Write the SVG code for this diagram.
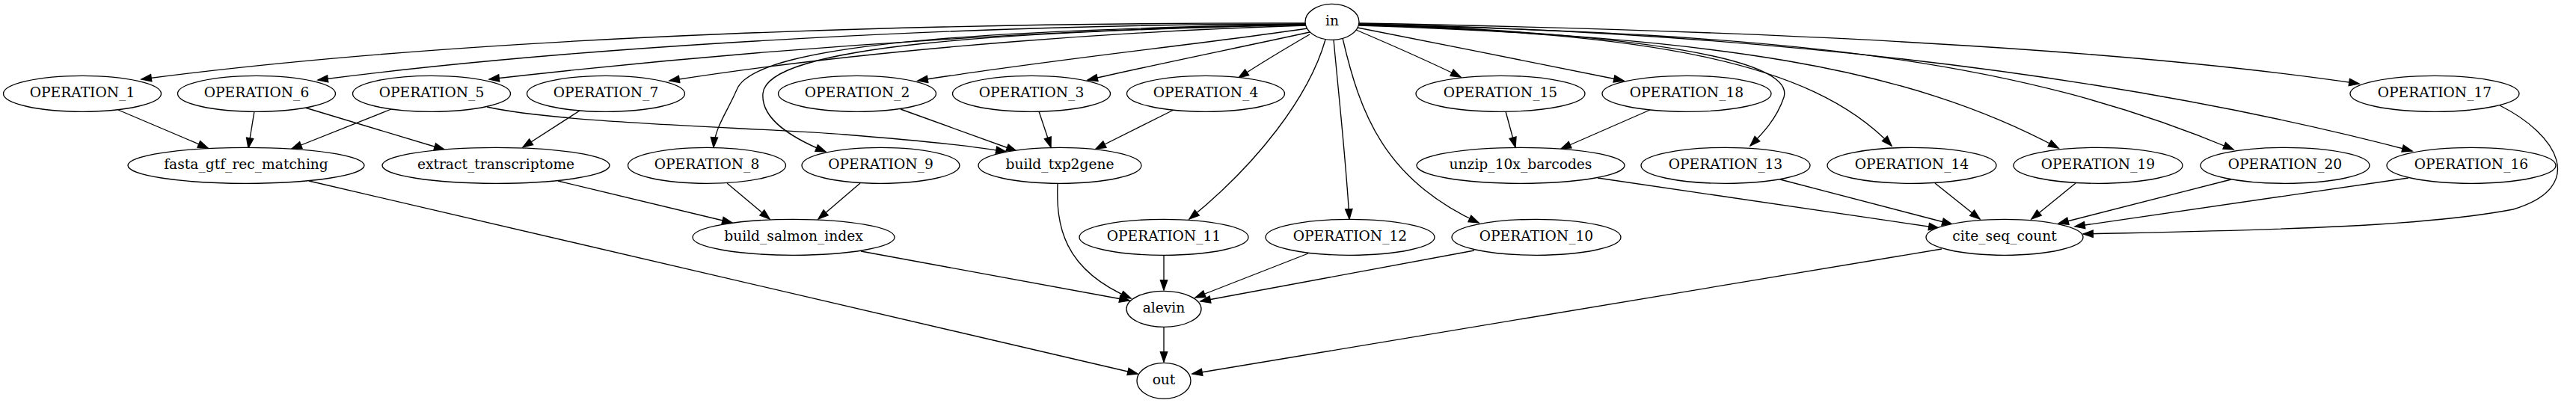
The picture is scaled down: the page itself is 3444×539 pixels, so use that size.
<svg xmlns="http://www.w3.org/2000/svg" width="3444" height="539" viewBox="0 0 3444 539">
<style>
.n ellipse{fill:#fff;stroke:#000;stroke-width:1.33}
.n text{font-family:"DejaVu Serif","Liberation Serif",serif;font-size:18.67px;text-anchor:middle;fill:#000}
.e path{fill:none;stroke:#000;stroke-width:1.33;marker-end:url(#ah)}
</style>
<defs>
<marker id="ah" markerUnits="userSpaceOnUse" markerWidth="16" markerHeight="12" viewBox="0 -6 14 12" refX="13.3" refY="0" orient="auto">
<path d="M0,-4.67 L13.33,0 L0,4.67 Z" fill="#000" stroke="#000" stroke-width="1.33"/>
</marker>
</defs>
<rect width="3444" height="539" fill="#fff"/>
<g id="edges" class="e">
<path d="M1745,31 C1300,30 650,45 189,106"/>
<path d="M1745,32 C1350,32 800,58 425,107"/>
<path d="M1746,33 C1500,37 1100,55 654,106"/>
<path d="M1746,34 C1550,40 1200,60 895,108"/>
<path d="M1748,38 C1600,60 1400,80 1227,108"/>
<path d="M1751,43 C1650,65 1550,85 1454,107"/>
<path d="M1751,46 C1720,64 1685,85 1656,104"/>
<path d="M1746,32 C1350,40 1010,55 985,120 C972,150 956,170 954,197"/>
<path d="M1746,33 C1350,42 1025,60 1020,125 C1017,160 1060,185 1104,203"/>
<path d="M1772,53 C1750,130 1680,220 1590,293"/>
<path d="M1783,53 C1790,130 1800,220 1804,293"/>
<path d="M1795,51 C1818,150 1850,240 1977,298"/>
<path d="M1813,40 C1860,60 1910,82 1953,103"/>
<path d="M1815,37 C1930,60 2060,85 2171,108"/>
<path d="M1816,32 C2200,45 2400,80 2385,130 C2375,160 2355,180 2340,195"/>
<path d="M1816,33 C2200,45 2420,80 2529,195"/>
<path d="M1817,34 C2300,50 2550,90 2752,198"/>
<path d="M1817,33 C2400,45 2700,80 2986,200"/>
<path d="M1817,32 C2300,42 2800,90 3225,202"/>
<path d="M1817,31 C2300,40 2800,60 3154,112"/>
<path d="M158,147 L278,198"/>
<path d="M340,149 L332,198"/>
<path d="M523,146 L390,199"/>
<path d="M408,144 L594,200"/>
<path d="M775,148 L699,197"/>
<path d="M651,143 C750,165 1000,170 1130,180 C1230,188 1300,195 1345,203"/>
<path d="M1204,146 L1359,202"/>
<path d="M1389,149 L1405,197"/>
<path d="M1569,147 L1465,199"/>
<path d="M972,245 L1029,293"/>
<path d="M1150,245 L1094,293"/>
<path d="M746,242 L979,298"/>
<path d="M413,242 L1521,500"/>
<path d="M1151,336 L1510,402"/>
<path d="M1414,246 C1412,300 1420,360 1512,399"/>
<path d="M1556,342 L1556,388"/>
<path d="M1749,339 L1598,398"/>
<path d="M1971,335 L1605,403"/>
<path d="M1556,437 L1556,484"/>
<path d="M2596,333 L1594,500"/>
<path d="M2013,149 L2026,197"/>
<path d="M2206,147 L2087,199"/>
<path d="M2136,238 L2592,305"/>
<path d="M2380,240 L2610,300"/>
<path d="M2587,245 L2647,293"/>
<path d="M2775,245 L2716,293"/>
<path d="M2983,240 L2752,299"/>
<path d="M3220,238 L2774,303"/>
<path d="M3342,141 C3420,180 3460,250 3360,280 C3230,305 3000,308 2785,313"/>
</g>
<g id="in" class="n"><ellipse cx="1781" cy="29.3" rx="36" ry="24"/><text x="1781" y="34.3">in</text></g>
<g id="OPERATION_1" class="n"><ellipse cx="110" cy="125.3" rx="105.5" ry="24"/><text x="110" y="130.3">OPERATION_1</text></g>
<g id="OPERATION_6" class="n"><ellipse cx="343" cy="125.3" rx="105.5" ry="24"/><text x="343" y="130.3">OPERATION_6</text></g>
<g id="OPERATION_5" class="n"><ellipse cx="577" cy="125.3" rx="105.5" ry="24"/><text x="577" y="130.3">OPERATION_5</text></g>
<g id="OPERATION_7" class="n"><ellipse cx="810" cy="125.3" rx="105.5" ry="24"/><text x="810" y="130.3">OPERATION_7</text></g>
<g id="OPERATION_2" class="n"><ellipse cx="1146" cy="125.3" rx="105.5" ry="24"/><text x="1146" y="130.3">OPERATION_2</text></g>
<g id="OPERATION_3" class="n"><ellipse cx="1379" cy="125.3" rx="105.5" ry="24"/><text x="1379" y="130.3">OPERATION_3</text></g>
<g id="OPERATION_4" class="n"><ellipse cx="1612" cy="125.3" rx="105.5" ry="24"/><text x="1612" y="130.3">OPERATION_4</text></g>
<g id="OPERATION_15" class="n"><ellipse cx="2006" cy="125.3" rx="113" ry="24"/><text x="2006" y="130.3">OPERATION_15</text></g>
<g id="OPERATION_18" class="n"><ellipse cx="2255" cy="125.3" rx="113" ry="24"/><text x="2255" y="130.3">OPERATION_18</text></g>
<g id="OPERATION_17" class="n"><ellipse cx="3255" cy="125.3" rx="113" ry="24"/><text x="3255" y="130.3">OPERATION_17</text></g>
<g id="fasta_gtf_rec_matching" class="n"><ellipse cx="329" cy="221.3" rx="158" ry="24"/><text x="329" y="226.3">fasta_gtf_rec_matching</text></g>
<g id="extract_transcriptome" class="n"><ellipse cx="663" cy="221.3" rx="152" ry="24"/><text x="663" y="226.3">extract_transcriptome</text></g>
<g id="OPERATION_8" class="n"><ellipse cx="945" cy="221.3" rx="105.5" ry="24"/><text x="945" y="226.3">OPERATION_8</text></g>
<g id="OPERATION_9" class="n"><ellipse cx="1177.5" cy="221.3" rx="105.5" ry="24"/><text x="1177.5" y="226.3">OPERATION_9</text></g>
<g id="build_txp2gene" class="n"><ellipse cx="1417" cy="221.3" rx="109" ry="24"/><text x="1417" y="226.3">build_txp2gene</text></g>
<g id="unzip_10x_barcodes" class="n"><ellipse cx="2033" cy="221.3" rx="139" ry="24"/><text x="2033" y="226.3">unzip_10x_barcodes</text></g>
<g id="OPERATION_13" class="n"><ellipse cx="2307" cy="221.3" rx="113" ry="24"/><text x="2307" y="226.3">OPERATION_13</text></g>
<g id="OPERATION_14" class="n"><ellipse cx="2556" cy="221.3" rx="113" ry="24"/><text x="2556" y="226.3">OPERATION_14</text></g>
<g id="OPERATION_19" class="n"><ellipse cx="2805" cy="221.3" rx="113" ry="24"/><text x="2805" y="226.3">OPERATION_19</text></g>
<g id="OPERATION_20" class="n"><ellipse cx="3055" cy="221.3" rx="113" ry="24"/><text x="3055" y="226.3">OPERATION_20</text></g>
<g id="OPERATION_16" class="n"><ellipse cx="3304" cy="221.3" rx="113" ry="24"/><text x="3304" y="226.3">OPERATION_16</text></g>
<g id="build_salmon_index" class="n"><ellipse cx="1061" cy="317.3" rx="135" ry="24"/><text x="1061" y="322.3">build_salmon_index</text></g>
<g id="OPERATION_11" class="n"><ellipse cx="1556" cy="317.3" rx="113" ry="24"/><text x="1556" y="322.3">OPERATION_11</text></g>
<g id="OPERATION_12" class="n"><ellipse cx="1805" cy="317.3" rx="113" ry="24"/><text x="1805" y="322.3">OPERATION_12</text></g>
<g id="OPERATION_10" class="n"><ellipse cx="2054" cy="317.3" rx="113" ry="24"/><text x="2054" y="322.3">OPERATION_10</text></g>
<g id="cite_seq_count" class="n"><ellipse cx="2680" cy="317.3" rx="105" ry="24"/><text x="2680" y="322.3">cite_seq_count</text></g>
<g id="alevin" class="n"><ellipse cx="1556" cy="413.3" rx="50" ry="24"/><text x="1556" y="418.3">alevin</text></g>
<g id="out" class="n"><ellipse cx="1556" cy="509.3" rx="36" ry="24"/><text x="1556" y="514.3">out</text></g>
</svg>
